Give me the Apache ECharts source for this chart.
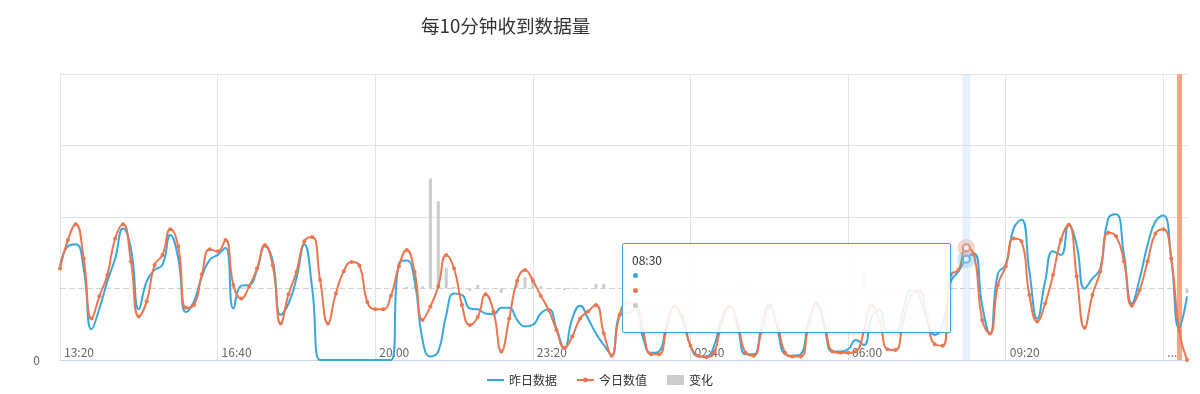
<!DOCTYPE html>
<html><head><meta charset="utf-8">
<script src="https://cdn.jsdelivr.net/npm/echarts@6/dist/echarts.min.js"></script>
<style>html,body{margin:0;padding:0;background:#fff}#c{width:1200px;height:394px}</style>
</head><body><div id="c"></div>
<script>
// categories: 10-minute slots starting 13:20
const times = [];
for (let k = 0; k < 144; k++) {
  const m = (13 * 60 + 20 + 10 * k) % 1440;
  times.push(String(Math.floor(m / 60)).padStart(2, '0') + ':' + String(m % 60).padStart(2, '0'));
}
const xTickLabels = ['13:20', '16:40', '20:00', '23:20', '02:40', '06:00', '09:20', '...'];
const yTickLabels = ['0', '', '', '', ''];

const yesterday = [
131,159,162,128,43,72,110,142,184,156,
71,110,126,133,175,142,67,82,117,140,
147,157,72,104,105,126,159,138,63,79,
114,162,100,0,0,0,0,0,0,0,
0,0,0,135,139,110,28,5,12,63,
93,91,72,71,65,64,73,73,56,47,
49,65,71,44,16,58,76,58,37,21,
7,63,66,70,30,10,12,50,75,55,
20,5,5,20,60,75,45,8,8,45,
78,45,8,6,8,55,78,45,12,12,
15,28,21,60,70,40,40,70,98,90,
55,35,50,109,124,141,149,77,36,121,
133,184,196,124,58,110,152,147,188,161,
100,114,128,198,204,147,79,114,161,194,
202,142,45,89
];
const today = [
128,168,190,142,58,89,119,170,190,138,
61,82,133,147,183,159,73,77,120,155,
152,168,105,86,103,128,161,132,51,92,
123,166,172,112,51,93,124,137,132,81,
71,71,90,131,154,123,56,75,103,147,
128,77,49,60,92,68,12,58,111,126,
111,90,70,42,17,33,58,68,77,37,
6,63,80,78,40,8,8,45,75,60,
20,6,4,10,55,75,50,10,6,40,
74,50,10,5,5,50,80,50,12,10,
10,12,40,77,55,15,14,55,90,96,
60,22,20,119,126,157,147,56,37,105,
131,170,166,91,54,79,119,168,189,117,
45,91,124,178,173,138,76,98,138,177,
183,142,41,0
];
const change = [
0,0,0,0,0,0,0,0,0,0,
0,0,0,0,0,0,0,0,0,0,
0,0,2,2,0,0,0,0,0,0,
0,0,0,0,0,0,0,0,0,0,
0,0,0,0,2,3,3,154,122,29,
2,0,-3,5,0,0,-6,0,8,16,
16,3,0,0,-2,1,0,0,6,6,
0,0,0,0,0,0,0,0,0,0,
0,0,0,0,0,0,2,2,0,0,
0,0,0,0,0,0,0,0,0,0,
0,0,21,0,0,0,0,0,0,0,
0,0,0,0,0,0,0,0,0,0,
0,0,0,0,0,0,0,0,0,0,
-2,0,0,0,0,0,0,0,0,0,
0,0,0,-6
];
const hoverIndex = 115;
const nowIndex = 142;

const BLUE = '#38a8dc', ORANGE = '#eb7650', GRAY = '#cccccc';
const FONT = '"Noto Sans CJK SC", "Noto Sans", sans-serif';

const chart = echarts.init(document.getElementById('c'), null, {renderer: 'canvas'});
const dot = c => `<span style="display:inline-block;width:5px;height:5px;border-radius:50%;background:${c};vertical-align:middle;margin:0 0 2px 1px"></span>`;

chart.setOption({
  animation: false,
  textStyle: {fontFamily: FONT},
  title: {
    text: '每10分钟收到数据量', left: 421, top: 17, padding: 0,
    textStyle: {fontSize: 18.6, fontWeight: 'normal', color: '#333', fontFamily: FONT}
  },
  legend: {
    top: 369, left: 'center', itemWidth: 17, itemHeight: 10, itemGap: 20,
    textStyle: {fontSize: 12, color: '#333', fontFamily: FONT},
    data: [
      {name: '昨日数据', icon: 'path://M0,0H17V2H0Z'},
      {name: '今日数值', icon: 'path://M0,4H17V6H0Z M8.5,2.6A2.4,2.4 0 1,1 8.49,2.6Z'},
      {name: '变化', icon: 'rect'}
    ]
  },
  grid: {left: 60, right: 13, top: 74, bottom: 34, outerBoundsMode: 'none'},
  tooltip: {
    trigger: 'axis', triggerOn: 'none', alwaysShowContent: true,
    position: [622, 243],
    backgroundColor: 'rgba(255,255,255,0.88)',
    borderColor: '#3ea6dc', borderWidth: 1, padding: [8, 9],
    textStyle: {fontSize: 12, color: '#333', fontFamily: FONT},
    extraCssText: 'width:309px;height:72px;box-shadow:1px 1px 3px rgba(0,0,0,0.15);border-radius:2px;line-height:15px;',
    axisPointer: {type: 'shadow', shadowStyle: {color: 'rgba(190,215,248,0.35)'}},
    formatter: p => `${p[0].axisValue}<br>${dot(BLUE)}<br>${dot(ORANGE)}<br>${dot('#c8c8c8')}<br>&nbsp;`
  },
  xAxis: {
    type: 'category', boundaryGap: false, data: times,
    axisLine: {lineStyle: {color: '#ccd6eb'}},
    axisTick: {show: false, interval: 19},
    axisLabel: {
      inside: true, interval: 19, align: 'left', margin: 2, padding: [0, 0, 0, 4],
      color: '#666', fontSize: 12, fontFamily: FONT,
      formatter: (v, i) => xTickLabels[Math.round(i / 20)]
    },
    splitLine: {show: true, interval: 19, lineStyle: {color: '#e3e3e3'}}
  },
  yAxis: [{
    type: 'value', min: 0, max: 400, interval: 100,
    axisLine: {show: false}, axisTick: {show: false},
    axisLabel: {margin: 20, color: '#666', fontSize: 12, fontFamily: FONT,
      formatter: (v) => yTickLabels[Math.round(v / 100)]},
    splitLine: {lineStyle: {color: ['#e3e3e3', 'rgba(0,0,0,0)', '#e3e3e3', '#e3e3e3', '#e3e3e3']}}
  }, {
    type: 'value', min: -100, max: 300, interval: 100, show: false,
    splitLine: {show: false}
  }],
  series: [{
    name: '变化', type: 'bar', yAxisIndex: 1, data: change, barWidth: 3,
    itemStyle: {color: GRAY},
    markLine: {
      silent: true, symbol: 'none', z: 1, label: {show: false},
      data: [
        {yAxis: 0, lineStyle: {color: '#d2d2d2', type: [6, 3], width: 1}},
        {xAxis: times[nowIndex], lineStyle: {color: '#f6a585', type: 'solid', width: 5}}
      ]
    }
  }, {
    name: '昨日数据', type: 'line', data: yesterday, smooth: true, symbol: 'none',
    lineStyle: {color: BLUE, width: 2}, itemStyle: {color: BLUE},
    emphasis: {disabled: true},
    markPoint: {
      silent: true, animation: false, label: {show: false},
      data: [
        {coord: [times[hoverIndex], yesterday[hoverIndex]], symbol: 'circle', symbolSize: 18, itemStyle: {color: 'rgba(56,168,220,0.28)'}},
        {coord: [times[hoverIndex], yesterday[hoverIndex]], symbol: 'circle', symbolSize: 7, itemStyle: {color: '#fff', borderColor: BLUE, borderWidth: 2}}
      ]
    }
  }, {
    name: '今日数值', type: 'line', data: today, smooth: true,
    symbol: 'circle', symbolSize: 4, showAllSymbol: true,
    lineStyle: {color: ORANGE, width: 2}, itemStyle: {color: ORANGE},
    emphasis: {disabled: true},
    markPoint: {
      silent: true, animation: false, label: {show: false},
      data: [
        {coord: [times[hoverIndex], today[hoverIndex]], symbol: 'circle', symbolSize: 18, itemStyle: {color: 'rgba(235,118,80,0.3)'}},
        {coord: [times[hoverIndex], today[hoverIndex]], symbol: 'circle', symbolSize: 7, itemStyle: {color: '#fff', borderColor: ORANGE, borderWidth: 2}}
      ]
    }
  }]
});
chart.dispatchAction({type: 'showTip', seriesIndex: 1, dataIndex: hoverIndex});
</script></body></html>
